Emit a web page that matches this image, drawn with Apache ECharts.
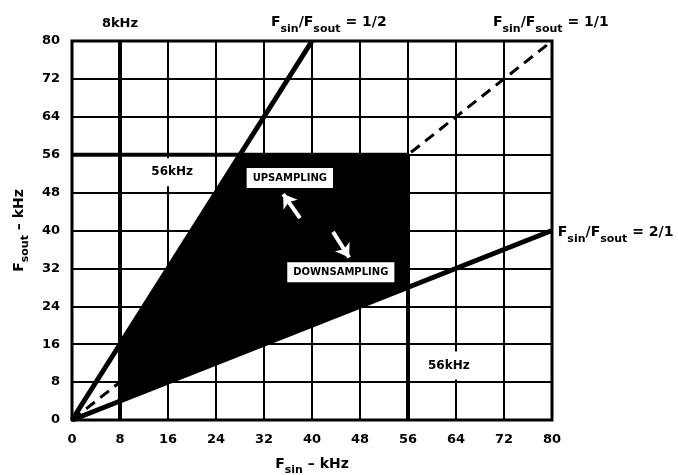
<!DOCTYPE html>
<html>
<head>
<meta charset="utf-8">
<script src="https://cdn.jsdelivr.net/npm/echarts@6/dist/echarts.min.js"></script>
<style>html,body{margin:0;padding:0;background:#fff}#c{width:678px;height:475px}</style>
</head>
<body>
<div id="c"></div>
<script>
// axis ticks
var xTicks = [0, 8, 16, 24, 32, 40, 48, 56, 64, 72, 80];
var yTicks = [0, 8, 16, 24, 32, 40, 48, 56, 64, 72, 80];
// ratio lines
var ratioHalf = [[0, 0], [40, 80]];     // Fsin/Fsout = 1/2
var ratioOne = [[0, 0], [80, 80]];      // Fsin/Fsout = 1/1
var ratioTwo = [[0, 0], [80, 40]];      // Fsin/Fsout = 2/1
// limit lines
var limit8 = [[8, 0], [8, 80]];
var limit56h = [[0, 56], [56, 56]];
var limit56v = [[56, 0], [56, 56]];
// operating region polygon
var regionX = [8, 8, 28, 56, 56];
var regionY = [4, 16, 56, 56, 28];
// annotations
var upArrow = [[38, 42.6], [35.2, 47.7]];
var downArrow = [[43.5, 39.7], [46.2, 34.3]];
var boxLabels = [
  {name: 'UPSAMPLING', value: [36.3, 51.1]},
  {name: 'DOWNSAMPLING', value: [44.8, 31.2]}
];
var khzLabels = [
  {name: '56kHz', value: [16.7, 52.3]},
  {name: '56kHz', value: [62.8, 11.5]}
];
var topLabels = [
  {name: '8kHz', value: [8, 83.6]},
  {name: '{n|F}{s|sin}{n|/F}{s|sout}{n| = 1/2}', value: [42.8, 84.3]},
  {name: '{n|F}{s|sin}{n|/F}{s|sout}{n| = 1/1}', value: [79.8, 84.3]}
];
var sideLabels = [
  {name: '{n|F}{s|sin}{n|/F}{s|sout}{n| = 2/1}', value: [80.3, 40]}
];

var FONT = 'DejaVu Sans';
var richSub = {
  n: {fontFamily: FONT, fontWeight: 'bold', fontSize: 14, color: '#000', verticalAlign: 'bottom', lineHeight: 18},
  s: {fontFamily: FONT, fontWeight: 'bold', fontSize: 11, color: '#000', verticalAlign: 'bottom', padding: [0, 0, -5, 0], lineHeight: 18}
};

function seg(data, width, dashed, z) {
  return {
    type: 'line', data: data, showSymbol: false, symbol: 'none', silent: true, z: z || 5,
    lineStyle: {color: '#000', width: width, type: dashed ? [11, 7] : 'solid', cap: 'butt'},
    animation: false
  };
}

function textSeries(data, label) {
  return {
    type: 'scatter', symbolSize: 0, z: 9, silent: true, clip: false,
    itemStyle: {opacity: 1}, data: data, label: label
  };
}

var regionData = regionX.map(function (x, i) { return [x, regionY[i]]; });

var chart = echarts.init(document.getElementById('c'), null, {renderer: 'canvas'});
chart.setOption({
  animation: false,
  grid: {left: 72, right: 126, top: 41, bottom: 55, show: true, borderColor: '#000', borderWidth: 3, z: 20,
    containLabel: false, outerBoundsMode: 'none'},
  xAxis: {
    type: 'value', min: 0, max: 80, interval: 8,
    axisLine: {show: false}, axisTick: {show: false},
    splitLine: {show: true, lineStyle: {color: '#000', width: 2}},
    axisLabel: {margin: 13, fontFamily: FONT, fontWeight: 'bold', fontSize: 13, color: '#000',
      formatter: function (v) { return xTicks.indexOf(v) >= 0 ? String(v) : ''; }},
    name: '{n|F}{s|sin}{n| – kHz}', nameLocation: 'middle', nameGap: 33,
    nameTextStyle: {rich: richSub}
  },
  yAxis: {
    type: 'value', min: 0, max: 80, interval: 8,
    axisLine: {show: false}, axisTick: {show: false},
    splitLine: {show: true, lineStyle: {color: '#000', width: 2}},
    axisLabel: {margin: 12, fontFamily: FONT, fontWeight: 'bold', fontSize: 13, color: '#000',
      formatter: function (v) { return yTicks.indexOf(v) >= 0 ? String(v) : ''; }},
    name: '{n|F}{s|sout}{n| – kHz}', nameLocation: 'middle', nameGap: 41, nameRotate: 90,
    nameTextStyle: {rich: richSub}
  },
  series: [
    {
      type: 'custom', z: 3, silent: true, clip: false,
      data: [0],
      renderItem: function (params, api) {
        var pts = regionData.map(function (p) { return api.coord(p); });
        return {type: 'polygon', shape: {points: pts}, style: {fill: '#000', stroke: '#000', lineWidth: 1}};
      }
    },
    seg(ratioOne, 3, true, 4),
    seg(ratioHalf, 5, false, 6),
    seg(ratioTwo, 5, false, 6),
    seg(limit8, 4, false, 6),
    seg(limit56h, 4, false, 6),
    seg(limit56v, 4, false, 6),
    {
      type: 'lines', coordinateSystem: 'cartesian2d', z: 8, silent: true,
      symbol: ['none', 'arrow'], symbolSize: [10, 13],
      lineStyle: {color: '#fff', width: 4, opacity: 1, curveness: 0},
      data: [{coords: upArrow}, {coords: downArrow}]
    },
    textSeries(boxLabels, {show: true, position: 'inside', formatter: '{b}', fontFamily: FONT, fontWeight: 'bold',
      fontSize: 10, color: '#000', backgroundColor: '#fff', padding: [5, 6, 5, 6]}),
    textSeries(khzLabels, {show: true, position: 'inside', formatter: '{b}', fontFamily: FONT, fontWeight: 'bold',
      fontSize: 12, color: '#000', backgroundColor: '#fff', padding: [8, 10, 8, 10]}),
    textSeries(topLabels, {show: true, position: 'inside', formatter: '{b}', fontFamily: FONT, fontWeight: 'bold',
      fontSize: 13, color: '#000', rich: richSub}),
    textSeries(sideLabels, {show: true, position: 'right', distance: 4, formatter: '{b}', rich: richSub})
  ]
});
</script>
</body>
</html>
